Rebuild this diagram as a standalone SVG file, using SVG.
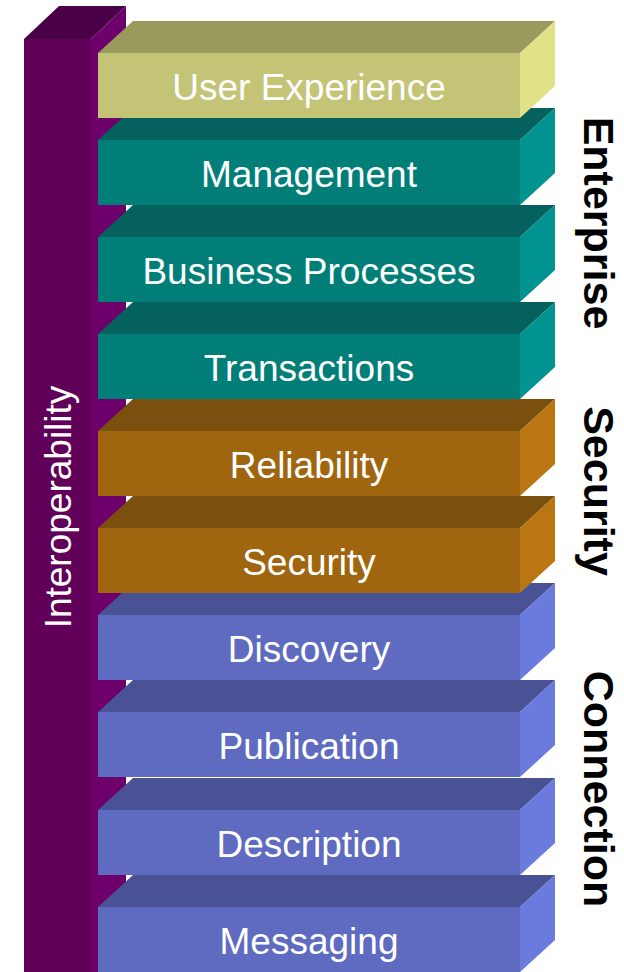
<svg xmlns="http://www.w3.org/2000/svg" width="624" height="972" viewBox="0 0 624 972">
<style>
.lbl{font-family:"Liberation Sans",Arial,sans-serif;font-size:37px;fill:#fff;text-anchor:middle}
.grp{font-family:"Liberation Sans",Arial,sans-serif;font-size:43px;font-weight:bold;fill:#000;text-anchor:middle}
.yf{fill:#C4C477}.yt{fill:#9A9A5C}.ys{fill:#E1E188}
.tf{fill:#027E78}.tt{fill:#04615D}.ts{fill:#019390}
.of{fill:#A0650F}.ot{fill:#7B4F0D}.os{fill:#B97613}
.bf{fill:#5E6BC0}.bt{fill:#4A5296}.bs{fill:#6A7ADD}
</style>
<g id="interoperability">
<polygon points="91,39 126,6 126,972 91,972" fill="#6E006C"/>
<polygon points="24,39 59,6 126,6 91,39" fill="#4A0046"/>
<rect x="24" y="39" width="67" height="933" fill="#600058"/>
<text class="lbl" transform="translate(71,507) rotate(-90)">Interoperability</text>
</g>
<g id="messaging" transform="translate(98,907)">
<polygon class="bt" points="0,0 35,-32 457,-32 422,0"/><polygon class="bs" points="422,0 457,-32 457,33 422,65"/><rect class="bf" width="422" height="65"/>
<text class="lbl" x="211" y="47">Messaging</text></g>
<g id="description" transform="translate(98,810)">
<polygon class="bt" points="0,0 35,-32 457,-32 422,0"/><polygon class="bs" points="422,0 457,-32 457,33 422,65"/><rect class="bf" width="422" height="65"/>
<text class="lbl" x="211" y="47">Description</text></g>
<g id="publication" transform="translate(98,712)">
<polygon class="bt" points="0,0 35,-32 457,-32 422,0"/><polygon class="bs" points="422,0 457,-32 457,33 422,65"/><rect class="bf" width="422" height="65"/>
<text class="lbl" x="211" y="47">Publication</text></g>
<g id="discovery" transform="translate(98,615)">
<polygon class="bt" points="0,0 35,-32 457,-32 422,0"/><polygon class="bs" points="422,0 457,-32 457,33 422,65"/><rect class="bf" width="422" height="65"/>
<text class="lbl" x="211" y="47">Discovery</text></g>
<g id="security" transform="translate(98,528)">
<polygon class="ot" points="0,0 35,-32 457,-32 422,0"/><polygon class="os" points="422,0 457,-32 457,33 422,65"/><rect class="of" width="422" height="65"/>
<text class="lbl" x="211" y="47">Security</text></g>
<g id="reliability" transform="translate(98,431)">
<polygon class="ot" points="0,0 35,-32 457,-32 422,0"/><polygon class="os" points="422,0 457,-32 457,33 422,65"/><rect class="of" width="422" height="65"/>
<text class="lbl" x="211" y="47">Reliability</text></g>
<g id="transactions" transform="translate(98,334)">
<polygon class="tt" points="0,0 35,-32 457,-32 422,0"/><polygon class="ts" points="422,0 457,-32 457,33 422,65"/><rect class="tf" width="422" height="65"/>
<text class="lbl" x="211" y="47">Transactions</text></g>
<g id="business-processes" transform="translate(98,237)">
<polygon class="tt" points="0,0 35,-32 457,-32 422,0"/><polygon class="ts" points="422,0 457,-32 457,33 422,65"/><rect class="tf" width="422" height="65"/>
<text class="lbl" x="211" y="47">Business Processes</text></g>
<g id="management" transform="translate(98,140)">
<polygon class="tt" points="0,0 35,-32 457,-32 422,0"/><polygon class="ts" points="422,0 457,-32 457,33 422,65"/><rect class="tf" width="422" height="65"/>
<text class="lbl" x="211" y="47">Management</text></g>
<g id="user-experience" transform="translate(98,53)">
<polygon class="yt" points="0,0 35,-32 457,-32 422,0"/><polygon class="ys" points="422,0 457,-32 457,33 422,65"/><rect class="yf" width="422" height="65"/>
<text class="lbl" x="211" y="47">User Experience</text></g>
<g id="group-labels">
<text class="grp" transform="translate(584,223) rotate(90)">Enterprise</text>
<text class="grp" transform="translate(584,491) rotate(90)">Security</text>
<text class="grp" transform="translate(584,789) rotate(90)">Connection</text>
</g>
<g id="connectors"/>
</svg>
